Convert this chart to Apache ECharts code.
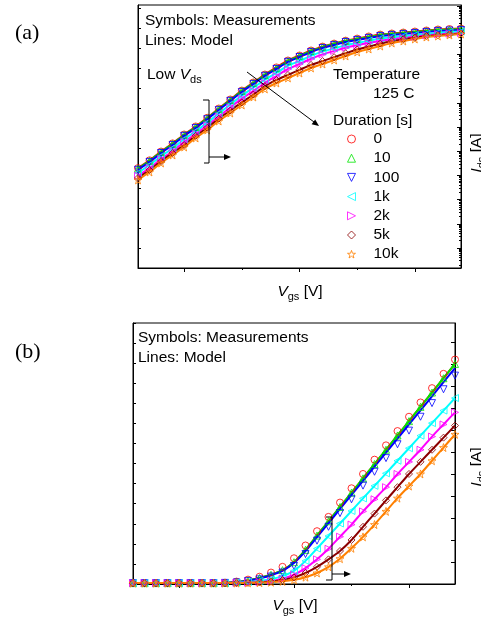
<!DOCTYPE html>
<html><head><meta charset="utf-8">
<script src="https://cdn.jsdelivr.net/npm/echarts@6/dist/echarts.min.js"></script>
<style>html,body{margin:0;padding:0;background:#fff}#c{width:481px;height:617px}</style>
</head><body><div id="c"></div>
<script>
// ---- shared ----
const vgs = [-0.4,-0.3,-0.2,-0.1,0,0.1,0.2,0.3,0.4,0.5,0.6,0.7,0.8,0.9,1.0,1.1,1.2,1.3,1.4,1.5,1.6,1.7,1.8,1.9,2.0,2.1,2.2,2.3,2.4];
const durations = ['0','10','100','1k','2k','5k','10k'];
const colors = ['#ff0000','#00e600','#0000ff','#00ffff','#ff00ff','#8b0000','#ff8000'];
const STAR = 'path://M0,-10L2.35,-3.24L9.51,-3.09L3.8,1.24L5.88,8.09L0,4L-5.88,8.09L-3.8,1.24L-9.51,-3.09L-2.35,-3.24Z';
const symbols = ['circle','triangle','triangle','triangle','triangle','diamond',STAR];
const symbolRot = [0,0,180,90,-90,0,0];
const legendIcons = ['circle','triangle','path://M0,0L10,0L5,10Z','path://M10,0L10,10L0,5Z','path://M0,0L0,10L10,5Z','diamond',STAR];

// ---- panel (a): Ids [A], log scale, low Vds ----
const idsA_0   = [2.0e-9,4.2e-9,9.7e-9,2.1e-8,4.9e-8,1.05e-7,2.4e-7,5.8e-7,1.37e-6,3.2e-6,6.9e-6,1.47e-5,2.9e-5,5.6e-5,9.0e-5,1.45e-4,2.1e-4,2.8e-4,3.7e-4,4.5e-4,5.5e-4,6.6e-4,7.3e-4,8.0e-4,8.8e-4,9.7e-4,1.07e-3,1.12e-3,1.17e-3];
const idsA_10  = [1.9e-9,4.0e-9,9.3e-9,2.0e-8,4.7e-8,1.0e-7,2.3e-7,5.5e-7,1.3e-6,3.1e-6,6.6e-6,1.4e-5,2.7e-5,5.3e-5,8.6e-5,1.38e-4,2.0e-4,2.7e-4,3.6e-4,4.3e-4,5.2e-4,6.3e-4,7.0e-4,7.7e-4,8.4e-4,9.3e-4,1.02e-3,1.07e-3,1.12e-3];
const idsA_100 = [1.7e-9,3.6e-9,8.4e-9,1.8e-8,4.3e-8,9.1e-8,2.1e-7,5.0e-7,1.2e-6,2.8e-6,6.0e-6,1.3e-5,2.5e-5,4.9e-5,7.8e-5,1.26e-4,1.84e-4,2.44e-4,3.25e-4,3.94e-4,4.77e-4,5.75e-4,6.34e-4,6.97e-4,7.66e-4,8.43e-4,9.27e-4,9.73e-4,1.02e-3];
const idsA_1k  = [1.28e-9,2.7e-9,6.2e-9,1.32e-8,3.1e-8,6.6e-8,1.51e-7,3.6e-7,8.5e-7,1.97e-6,4.2e-6,9.0e-6,1.72e-5,3.4e-5,5.3e-5,8.7e-5,1.31e-4,1.76e-4,2.4e-4,2.96e-4,3.67e-4,4.5e-4,5.1e-4,5.6e-4,6.3e-4,7.1e-4,7.9e-4,8.4e-4,8.9e-4];
const idsA_2k  = [9.6e-10,2.0e-9,4.7e-9,1.0e-8,2.4e-8,5.1e-8,1.17e-7,2.7e-7,6.4e-7,1.48e-6,3.1e-6,6.6e-6,1.28e-5,2.5e-5,4.0e-5,6.6e-5,1.0e-4,1.4e-4,1.9e-4,2.4e-4,3.0e-4,3.7e-4,4.2e-4,4.8e-4,5.4e-4,6.1e-4,6.8e-4,7.2e-4,7.6e-4];
const idsA_5k  = [7.8e-10,1.66e-9,3.9e-9,8.4e-9,1.8e-8,4.3e-8,9.3e-8,2.2e-7,4.8e-7,1.04e-6,2.2e-6,4.9e-6,8.8e-6,1.42e-5,2.3e-5,3.7e-5,5.3e-5,7.7e-5,1.11e-4,1.6e-4,2.1e-4,2.8e-4,3.6e-4,4.2e-4,4.9e-4,5.8e-4,6.2e-4,6.7e-4,7.3e-4];
const idsA_10k = [6.5e-10,1.38e-9,3.25e-9,6.97e-9,1.49e-8,3.51e-8,7.52e-8,1.77e-7,3.79e-7,8.11e-7,1.74e-6,3.72e-6,6.58e-6,1.06e-5,1.70e-5,2.74e-5,4.01e-5,5.87e-5,8.59e-5,1.26e-4,1.67e-4,2.22e-4,2.96e-4,3.58e-4,4.33e-4,5.24e-4,5.75e-4,6.34e-4,6.97e-4];

// ---- panel (b): Ids [mA], linear scale ----
const idsB_0_model   = [0.004,0.004,0.004,0.004,0.004,0.004,0.004,0.004,0.005,0.009,0.016,0.027,0.042,0.063,0.099,0.155,0.22,0.285,0.35,0.415,0.48,0.545,0.61,0.675,0.74,0.805,0.87,0.935,1.0];
const idsB_10_model  = [0.004,0.004,0.004,0.004,0.004,0.004,0.004,0.004,0.005,0.009,0.016,0.027,0.042,0.063,0.099,0.155,0.22,0.285,0.35,0.415,0.48,0.545,0.61,0.675,0.74,0.805,0.87,0.935,1.0];
const idsB_100_model = [0.004,0.004,0.004,0.004,0.004,0.004,0.004,0.004,0.005,0.008,0.015,0.025,0.040,0.060,0.095,0.149,0.213,0.277,0.341,0.405,0.469,0.533,0.597,0.661,0.725,0.789,0.853,0.917,0.981];
const idsB_1k  = [0.004,0.004,0.004,0.004,0.004,0.004,0.004,0.004,0.004,0.006,0.009,0.014,0.022,0.036,0.06,0.105,0.161,0.218,0.275,0.332,0.389,0.446,0.503,0.56,0.617,0.674,0.731,0.788,0.845];
const idsB_2k  = [0.004,0.004,0.004,0.004,0.004,0.004,0.004,0.004,0.004,0.005,0.006,0.009,0.014,0.024,0.042,0.072,0.112,0.16,0.215,0.27,0.33,0.385,0.44,0.5,0.555,0.61,0.67,0.725,0.78];
const idsB_5k  = [0.004,0.004,0.004,0.004,0.004,0.004,0.004,0.004,0.004,0.004,0.005,0.007,0.011,0.018,0.03,0.05,0.078,0.112,0.15,0.2,0.26,0.32,0.38,0.44,0.5,0.555,0.61,0.665,0.72];
const idsB_10k = [0.004,0.004,0.004,0.004,0.004,0.004,0.004,0.004,0.004,0.004,0.005,0.006,0.008,0.012,0.019,0.031,0.05,0.078,0.115,0.162,0.214,0.27,0.33,0.39,0.445,0.5,0.56,0.62,0.68];
const idsB_0_meas   = [0.004,0.004,0.004,0.004,0.004,0.004,0.004,0.004,0.006,0.011,0.02,0.033,0.052,0.078,0.117,0.175,0.24,0.305,0.37,0.435,0.5,0.565,0.63,0.695,0.76,0.825,0.89,0.955,1.02];
const idsB_10_meas  = [0.004,0.004,0.004,0.004,0.004,0.004,0.004,0.004,0.005,0.009,0.016,0.027,0.042,0.063,0.099,0.155,0.22,0.285,0.35,0.415,0.48,0.545,0.61,0.675,0.74,0.805,0.87,0.935,1.0];
const idsB_100_meas = [0.004,0.004,0.004,0.004,0.004,0.004,0.004,0.004,0.005,0.007,0.013,0.021,0.034,0.052,0.082,0.136,0.197,0.26,0.322,0.385,0.447,0.51,0.572,0.635,0.697,0.76,0.822,0.885,0.947];

// ---- tick positions (axes carry no labels) ----
const xMajorTicks = [0, 1, 2];
const xMinorTicks = [0.5, 1.5];
const logMajorTicks = [1e-12,1e-11,1e-10,1e-9,1e-8,1e-7,1e-6,1e-5,1e-4,1e-3,1e-2];
const linBTicks = [0,0.1,0.2,0.3,0.4,0.5,0.6,0.7,0.8,0.9,1.0,1.1];
const leftTicksA = [0,1,2,3,4,5,6,7,8,9,10,11,12,13];
const leftTicksB = [0,1,2,3,4,5,6,7,8,9,10,11,12,13];

const logMin = 1.49e-13, logMax = 1.10e-2;
const logMinorTicks = [];
for (let e = -13; e <= -2; e++) for (let k = 2; k <= 9; k++) {
  const v = k * Math.pow(10, e);
  if (v > logMin && v < logMax) logMinorTicks.push(v);
}

const FONT = "'Liberation Sans', Arial, sans-serif";
const SERIF = "'Liberation Serif', 'Times New Roman', serif";

const modelA = [idsA_0, idsA_10, idsA_100, idsA_1k, idsA_2k, idsA_5k, idsA_10k];
const measA  = modelA;
const modelB = [idsB_0_model, idsB_10_model, idsB_100_model, idsB_1k, idsB_2k, idsB_5k, idsB_10k];
const measB  = [idsB_0_meas, idsB_10_meas, idsB_100_meas, idsB_1k, idsB_2k, idsB_5k, idsB_10k];

const pairs = ys => vgs.map((v, i) => [v, ys[i]]);

const series = [];
function addPanel(model, meas, xIdx, yIdx, tag) {
  durations.forEach((d, k) => {
    series.push({
      type: 'line', name: 'model ' + d + tag, xAxisIndex: xIdx, yAxisIndex: yIdx,
      data: pairs(model[k]), symbol: 'none', showSymbol: false, smooth: 0.2,
      lineStyle: { color: colors[k], width: 2 }, itemStyle: { color: colors[k] },
      silent: true, z: 2
    });
  });
  durations.forEach((d, k) => {
    series.push({
      type: 'scatter', name: tag === 'a' ? d : d + ' (b)', xAxisIndex: xIdx, yAxisIndex: yIdx,
      data: pairs(meas[k]), symbol: symbols[k], symbolRotate: symbolRot[k],
      symbolSize: k === 6 ? 8 : 7,
      itemStyle: { color: 'transparent', borderColor: colors[k], borderWidth: 1 },
      silent: true, z: 3
    });
  });
}
addPanel(modelA, measA, 0, 1, 'a');
addPanel(modelB, measB, 2, 4, 'b');

const noLabel = { show: false };
const noSplit = { show: false };
const blackLine = { show: true, onZero: false, lineStyle: { color: '#000', width: 1 } };
const hiddenLine = { show: false, onZero: false };

function xAxes(grid) {
  return [
    { gridIndex: grid, type: 'value', min: -0.4, max: 2.4, position: 'bottom',
      axisLine: blackLine, axisLabel: noLabel, splitLine: noSplit,
      axisTick: { show: true, inside: false, length: 4, customValues: xMajorTicks, lineStyle: { color: '#000' } } },
    { gridIndex: grid, type: 'value', min: -0.4, max: 2.4, position: 'bottom',
      axisLine: hiddenLine, axisLabel: noLabel, splitLine: noSplit,
      axisTick: { show: true, inside: false, length: 2, customValues: xMinorTicks, lineStyle: { color: '#000' } } }
  ];
}

const option = {
  animation: false,
  backgroundColor: '#fff',
  grid: [
    { left: 138, top: 5, width: 323, height: 263, show: true, borderColor: '#000', borderWidth: 1, backgroundColor: 'transparent' },
    { left: 133, top: 323, width: 322, height: 261, show: true, borderColor: '#000', borderWidth: 1, backgroundColor: 'transparent' }
  ],
  xAxis: [...xAxes(0), ...xAxes(1)],
  yAxis: [
    { gridIndex: 0, type: 'value', position: 'left', min: 0, max: 13.15,
      axisLine: blackLine, axisLabel: noLabel, splitLine: noSplit,
      axisTick: { show: true, inside: true, length: 3, customValues: leftTicksA, lineStyle: { color: '#000' } } },
    { gridIndex: 0, type: 'log', logBase: 10, position: 'right', min: logMin, max: logMax,
      axisLine: blackLine, axisLabel: noLabel, splitLine: noSplit,
      axisTick: { show: true, inside: true, length: 4, customValues: logMajorTicks, lineStyle: { color: '#000' } } },
    { gridIndex: 0, type: 'log', logBase: 10, position: 'right', min: logMin, max: logMax,
      axisLine: hiddenLine, axisLabel: noLabel, splitLine: noSplit,
      axisTick: { show: true, inside: true, length: 2, customValues: logMinorTicks, lineStyle: { color: '#000' } } },
    { gridIndex: 1, type: 'value', position: 'left', min: 0, max: 13,
      axisLine: blackLine, axisLabel: noLabel, splitLine: noSplit,
      axisTick: { show: true, inside: true, length: 3, customValues: leftTicksB, lineStyle: { color: '#000' } } },
    { gridIndex: 1, type: 'value', position: 'right', min: 0, max: 1.186,
      axisLine: blackLine, axisLabel: noLabel, splitLine: noSplit,
      axisTick: { show: true, inside: true, length: 4, customValues: linBTicks, lineStyle: { color: '#000' } } }
  ],
  legend: {
    orient: 'vertical', left: 347, top: 131, itemWidth: 8, itemHeight: 8, itemGap: 3.2,
    padding: 0, selectedMode: false, symbolRotate: 0,
    data: durations.map((d, k) => ({ name: d, icon: legendIcons[k], symbolRotate: 0 })),
    itemStyle: { color: 'transparent', borderColor: 'inherit', borderWidth: 1 },
    textStyle: { fontSize: 15.5, fontFamily: FONT, color: '#000', lineHeight: 16, padding: [0, 0, 0, 13] }
  },
  series: series,
  graphic: { elements: [] }
};

function txt(x, y, text, extra) {
  return Object.assign({ type: 'text', x: x, y: y, silent: true, z: 100,
    style: Object.assign({ text: text, fill: '#000', font: '15.5px ' + FONT,
      align: 'left', textAlign: 'left', verticalAlign: 'middle', textVerticalAlign: 'middle' }, extra && extra.style) },
    extra && extra.el);
}
const subRich = {
  n: { fontSize: 15.5, fontFamily: FONT, fill: '#000' },
  i: { fontSize: 15.5, fontFamily: FONT, fontStyle: 'italic', fill: '#000' },
  s: { fontSize: 11, fontFamily: FONT, fill: '#000', padding: [9, 0, 0, 0] }
};
const G = option.graphic.elements;
G.push(txt(15, 33, '(a)', { style: { font: '22px ' + SERIF } }));
G.push(txt(15, 352, '(b)', { style: { font: '22px ' + SERIF } }));
G.push(txt(145, 21, 'Symbols: Measurements'));
G.push(txt(145, 41, 'Lines: Model'));
G.push(txt(138, 338, 'Symbols: Measurements'));
G.push(txt(138, 358, 'Lines: Model'));
G.push(txt(147, 75, '{n|Low }{i|V}{s|ds}', { style: { rich: subRich } }));
G.push(txt(333, 75, 'Temperature'));
G.push(txt(373, 94, '125 C'));
G.push(txt(333, 121, 'Duration [s]'));
G.push(txt(300, 292, '{i|V}{s|gs}{n| [V]}', { style: { rich: subRich, align: 'center', textAlign: 'center' } }));
G.push(txt(295, 606, '{i|V}{s|gs}{n| [V]}', { style: { rich: subRich, align: 'center', textAlign: 'center' } }));
G.push(txt(477, 153, '{i|I}{s|ds}{n| [A]}', { style: { rich: subRich, align: 'center', textAlign: 'center' }, el: { rotation: Math.PI / 2 } }));
G.push(txt(477, 467, '{i|I}{s|ds}{n| [A]}', { style: { rich: subRich, align: 'center', textAlign: 'center' }, el: { rotation: Math.PI / 2 } }));

// annotations: brackets and arrows
const stroke = { stroke: '#000', lineWidth: 1, fill: 'none' };
G.push({ type: 'polyline', silent: true, z: 100, shape: { points: [[203, 100], [209, 100], [209, 163], [204, 163]] }, style: stroke });
G.push({ type: 'line', silent: true, z: 100, shape: { x1: 209, y1: 157, x2: 226, y2: 157 }, style: stroke });
G.push({ type: 'polygon', silent: true, z: 100, shape: { points: [[231, 157], [224, 154], [224, 160]] }, style: { fill: '#000' } });
G.push({ type: 'line', silent: true, z: 100, shape: { x1: 247, y1: 72, x2: 314, y2: 122 }, style: stroke });
G.push({ type: 'polygon', silent: true, z: 100, shape: { points: [[319, 126], [311.6, 124.2], [315.2, 119.4]] }, style: { fill: '#000' } });
G.push({ type: 'polyline', silent: true, z: 100, shape: { points: [[326, 517], [332, 517], [332, 580], [326, 580]] }, style: stroke });
G.push({ type: 'line', silent: true, z: 100, shape: { x1: 332, y1: 574, x2: 346, y2: 574 }, style: stroke });
G.push({ type: 'polygon', silent: true, z: 100, shape: { points: [[351, 574], [344, 571], [344, 577]] }, style: { fill: '#000' } });

const chart = echarts.init(document.getElementById('c'), null, { renderer: 'canvas' });
chart.setOption(option);
</script>
</body></html>
